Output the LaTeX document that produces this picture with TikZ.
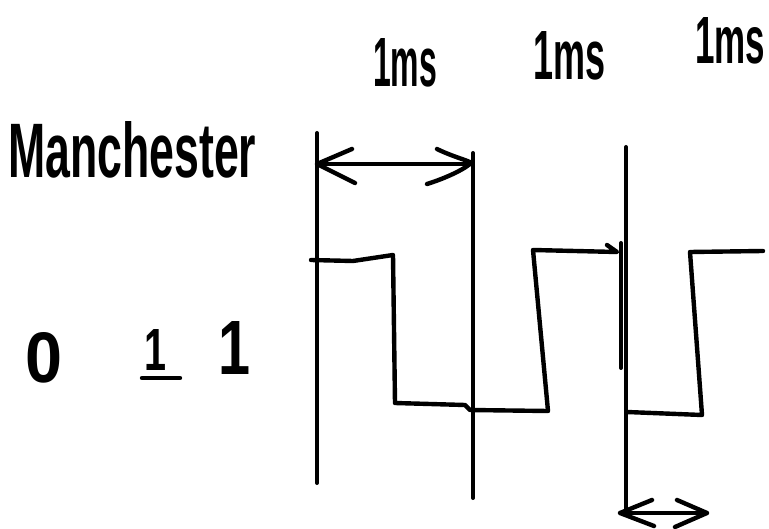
\documentclass[tikz,border=0pt]{standalone}
\usepackage{graphicx}
\usepackage{fontspec}
\setmainfont{Liberation Sans}
\begin{document}
\begin{tikzpicture}[x=1pt,y=-1pt,
  pen/.style={line width=4.4pt,line cap=round,line join=round,black},
  thinpen/.style={line width=4pt,line cap=round,line join=round,black},
  hand/.style={inner sep=0pt,anchor=south west,font=\bfseries}]
\useasboundingbox (0,0) rectangle (769,529);
% texts
\node[hand] (ms1) at (373,87) {\resizebox{64pt}{48pt}{1ms}};
\node[hand] (ms2) at (533,80) {\resizebox{72pt}{48pt}{1ms}};
\node[hand] (ms3) at (695,64) {\resizebox{70pt}{46pt}{1ms}};
\node[hand] (man) at (8,178) {\resizebox{248pt}{56pt}{Manchester}};
\node[hand] (d0) at (25,383) {\resizebox{37pt}{50pt}{0}};
\node[hand] (d1) at (144,371) {\resizebox{22pt}{41pt}{1}};
\node[hand] (d2) at (218,375) {\resizebox{32pt}{53pt}{1}};
\coordinate (ul) at (142,378); \coordinate (ur) at (180,378);
\draw[pen] (ul) -- (ur);
% vertical lines
\coordinate (v1t) at (317,133); \coordinate (v1b) at (317,483);
\coordinate (v2t) at (473,153); \coordinate (v2b) at (473,498);
\coordinate (v3t) at (626,147); \coordinate (v3b) at (626,512);
\coordinate (v4t) at (621,243); \coordinate (v4b) at (621,368);
\draw[thinpen] (v1t) -- (v1b);
\draw[thinpen] (v2t) -- (v2b);
\draw[thinpen] (v3t) -- (v3b);
\draw[thinpen] (v4t) -- (v4b);
% top double arrow
\coordinate (a1l) at (317,164); \coordinate (a1r) at (470,164);
\draw[pen] (a1l) -- (a1r);
\draw[pen] (352,149) -- (a1l) -- (355,183);
\draw[pen] (437,149) .. controls (455,158) and (478,163) .. (a1r) .. controls (460,172) and (440,180) .. (427,184);
% signal
\coordinate (s0) at (311,260);
\coordinate (s1) at (617,252);
\draw[pen] (s0) -- (353,261) -- (393,255) -- (395,403) -- (465,405) -- (470,410) -- (548,411) -- (533,250) -- (s1) -- (607,245);
\coordinate (t0) at (627,412);
\coordinate (t1) at (763,251);
\draw[pen] (t0) -- (702,415) -- (690,252) -- (t1);
% bottom double arrow
\coordinate (b1l) at (620,513); \coordinate (b1r) at (707,513);
\draw[pen] (b1l) -- (b1r);
\draw[pen] (652,500) -- (b1l) -- (654,526);
\draw[pen] (677,500) -- (b1r) -- (675,527);
\end{tikzpicture}
\end{document}
